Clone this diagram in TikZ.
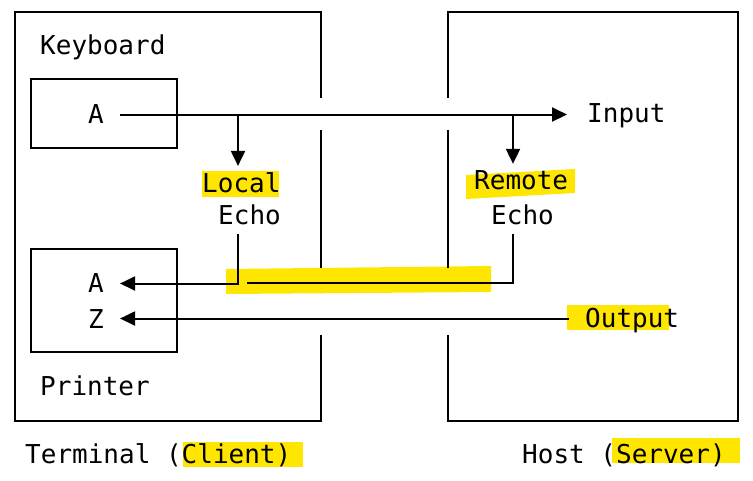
\documentclass[tikz,border=0pt]{standalone}
\usepackage{fontspec}
\setmonofont{DejaVu Sans Mono}
\usetikzlibrary{arrows.meta,positioning}
\definecolor{marker}{RGB}{255,230,0}

\begin{document}
\begin{tikzpicture}[
  x=1pt, y=-1pt,
  lbl/.style={font=\ttfamily\fontsize{26}{26}\selectfont, inner sep=0pt,
              anchor=base west},
  dev/.style={draw, line width=2pt, minimum width=146pt},
  wall/.style={line width=2pt},
  hilite/.style={fill=marker, draw=none},
  ln/.style={line width=2pt},
  arr/.style={-{Triangle[length=15pt,width=14pt]}, line width=2pt}]

\useasboundingbox (0,0) rectangle (753,481);

% marker strokes
\fill[hilite] (202,171) rectangle (279,197);
\fill[hilite] (466,175) -- (575,169) -- (575,193) -- (466,199) -- cycle;
\fill[hilite] (226,269) -- (491,266) -- (491,292) -- (226,294) -- cycle;
\fill[hilite] (567,305) rectangle (669,330);
\fill[hilite] (183,442) rectangle (303,467);
\fill[hilite] (612,438) rectangle (740,463);

% terminal and host
\draw[wall] (321,98) -- (321,12) -- (15,12) -- (15,421) -- (321,421) -- (321,335);
\draw[wall] (321,130) -- (321,268);
\draw[wall] (448,98) -- (448,12) -- (738,12) -- (738,421) -- (448,421) -- (448,335);
\draw[wall] (448,130) -- (448,268);

\node[dev, minimum height=69pt]  (kbd) at (104,113.5) {};
\node[dev, minimum height=103pt] (prn) at (104,300.5) {};

\node[lbl] (kbdlbl) at (40,55)  {Keyboard};
\node[lbl] (keyA)   at (88,124) {A};
\node[lbl] (input)  at (587,123) {Input};
\node[lbl] (local)  at (202,193) {Local};
\node[lbl] (echoL)  at (218,225) {Echo};
\node[lbl] (remote) at (474,190) {Remote};
\node[lbl] (echoR)  at (491,225) {Echo};
\node[lbl] (prnA)   at (88,293) {A};
\node[lbl] (prnZ)   at (88,328) {Z};
\node[lbl] (output) at (585,327) {Output};
\node[lbl] (prnlbl) at (40,395) {Printer};
\node[lbl] (term)   at (25,463) {Terminal (Client)};
\node[lbl] (host)   at (522,463) {Host (Server)};

\coordinate (lsplit) at (238,114.5);
\coordinate (rsplit) at (513,114.5);
\coordinate (rjoin)  at (247,283.5);

\draw[arr, shorten <=16pt, shorten >=20pt] (keyA.east) -- (input.west |- keyA.east);
\draw[arr, shorten >=7pt] (lsplit) -- (lsplit |- local.north);
\draw[arr, shorten >=7pt] (rsplit) -- (rsplit |- remote.north);
\draw[arr, shorten <=8pt, shorten >=16pt] (echoL.south -| lsplit) |- (prnA.east);
\draw[ln, shorten <=8pt] (echoR.south -| rsplit) |- (rjoin);
\draw[arr, shorten <=16pt, shorten >=16pt] (prnZ.east -| output.west) -- (prnZ.east);
\end{tikzpicture}
\end{document}
